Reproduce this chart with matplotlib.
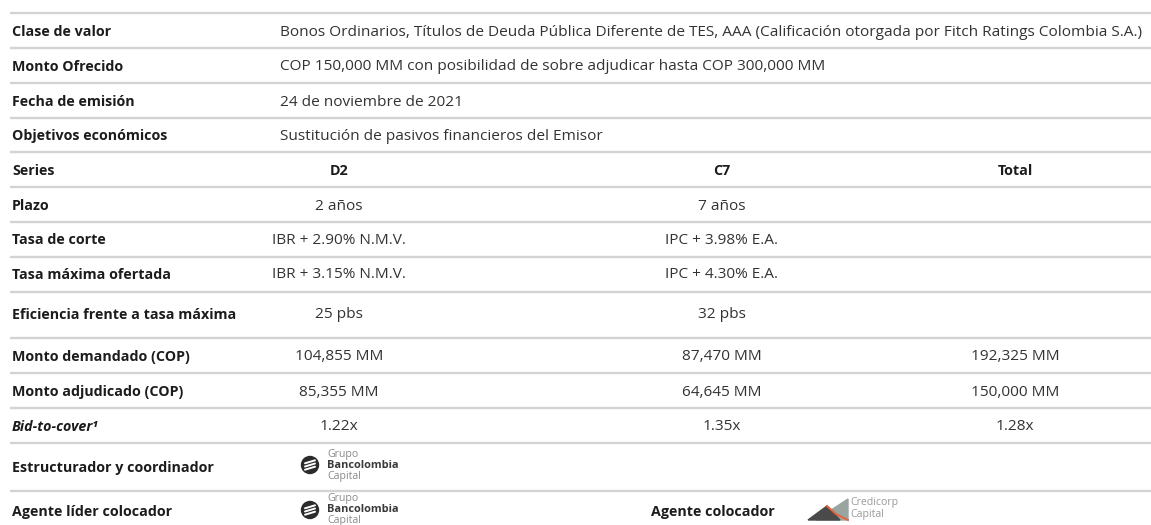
import matplotlib.pyplot as plt
from matplotlib.patches import Circle, Polygon

plt.rcParams['font.family'] = ['Open Sans', 'DejaVu Sans']

# table content
labels = ['Clase de valor', 'Monto Ofrecido', 'Fecha de emisión', 'Objetivos económicos',
          'Series', 'Plazo', 'Tasa de corte', 'Tasa máxima ofertada',
          'Eficiencia frente a tasa máxima', 'Monto demandado (COP)', 'Monto adjudicado (COP)',
          'Bid-to-cover¹', 'Estructurador y coordinador', 'Agente líder colocador']
wide_text = ['Bonos Ordinarios, Títulos de Deuda Pública Diferente de TES, AAA (Calificación otorgada por Fitch Ratings Colombia S.A.)',
             'COP 150,000 MM con posibilidad de sobre adjudicar hasta COP 300,000 MM',
             '24 de noviembre de 2021',
             'Sustitución de pasivos financieros del Emisor']
series = ['D2', 'C7', 'Total']
plazo = ['2 años', '7 años', '']
tasa_corte = ['IBR + 2.90% N.M.V.', 'IPC + 3.98% E.A.', '']
tasa_max = ['IBR + 3.15% N.M.V.', 'IPC + 4.30% E.A.', '']
eficiencia = ['25 pbs', '32 pbs', '']
monto_dem = ['104,855 MM', '87,470 MM', '192,325 MM']
monto_adj = ['85,355 MM', '64,645 MM', '150,000 MM']
bid_cover = ['1.22x', '1.35x', '1.28x']

# layout (pixels)
W, H = 1151, 525
row_lines = [13, 48, 83, 118, 152, 187, 222, 257, 292, 338, 373, 408, 443, 491]
row_text_y = [32, 67, 102, 136, 171, 206, 240, 275, 315, 357, 392, 427, 468, 512]
label_x = 12
wide_x = 280
col_x = [339, 722, 1015]
fs_lab = 10.3
fs_val = 11.1
dark = '#1c1c1c'
txt = '#333333'

fig = plt.figure(figsize=(W / 100, H / 100), dpi=100)
ax = fig.add_axes([0, 0, 1, 1])
ax.set_xlim(0, W)
ax.set_ylim(H, 0)
ax.axis('off')

ax.hlines(row_lines, 10, W, color='#d3d3d3', lw=1.7)

for i, lab in enumerate(labels):
    style = 'italic' if lab.startswith('Bid') else 'normal'
    ax.text(label_x, row_text_y[i], lab, ha='left', va='center', fontsize=fs_lab,
            fontweight='bold', style=style, color=dark)

for i, t in enumerate(wide_text):
    ax.text(wide_x, row_text_y[i], t, ha='left', va='center', fontsize=fs_val, color=txt)

grid_rows = [series, plazo, tasa_corte, tasa_max, eficiencia, monto_dem, monto_adj, bid_cover]
for r, vals in enumerate(grid_rows):
    y = row_text_y[4 + r]
    for x, v in zip(col_x, vals):
        if r == 0:
            ax.text(x, y, v, ha='center', va='center', fontsize=fs_lab, color=dark,
                    fontweight='bold')
        else:
            ax.text(x, y, v, ha='center', va='center', fontsize=fs_val, color=txt)


def bancolombia_logo(x, y):
    ax.add_patch(Circle((x, y), 8.5, color='#2b2b2b', zorder=3))
    for dy in (-3.2, 0, 3.2):
        ax.plot([x - 5, x + 5], [y + dy + 1.5, y + dy - 1.5], color='white', lw=1.4, zorder=4,
                solid_capstyle='round')
    ax.text(x + 17, y - 11, 'Grupo', ha='left', va='center', fontsize=7.6, color='#8a8a8a')
    ax.text(x + 17, y, 'Bancolombia', ha='left', va='center', fontsize=7.9, fontweight='bold',
            color='#3a3a3a')
    ax.text(x + 17, y + 11, 'Capital', ha='left', va='center', fontsize=7.6, color='#8a8a8a')


bancolombia_logo(310, 465)
bancolombia_logo(310, 510)

ax.text(775, 512, 'Agente colocador', ha='right', va='center', fontsize=fs_lab,
        fontweight='bold', color=dark)

# Credicorp Capital logo
ax.add_patch(Polygon([[816, 520], [848, 499], [848, 520]], closed=True, color='#9aa5a1', zorder=3))
ax.add_patch(Polygon([[808, 520], [827, 506], [840, 520]], closed=True, color='#4a4a4a', zorder=4))
ax.plot([827, 836, 848], [506, 514, 520], color='#e8623a', lw=1.4, zorder=5)
ax.text(850, 502, 'Credicorp', ha='left', va='center', fontsize=7.6, color='#9a9a9a')
ax.text(850, 514, 'Capital', ha='left', va='center', fontsize=7.6, color='#9a9a9a')

fig.savefig('out.png', dpi=100)
